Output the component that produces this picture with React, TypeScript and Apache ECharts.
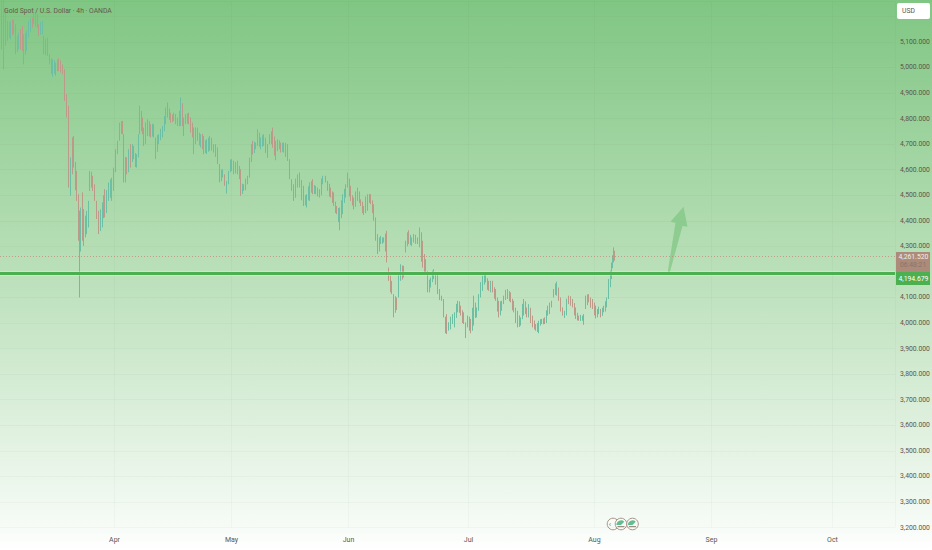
import React, { useEffect, useRef } from "react";
import * as echarts from "echarts";

// Sampled 4h candles: [bar number, open, close, low, high]
const marchBars = [
  [1,5250,5100,5071,5285],[3,5220,5090,4993,5285],[7,5170,5120,5104,5182],[10,5125,5170,5110,5182],[13,5180,5140,5130,5188],
  [15,5160,5070,5052,5169],[18,5080,5125,5071,5136],[22,5150,5080,5065,5162],[23,5030,5120,5012,5130],[26,5080,5130,5065,5143],
  [28,5125,5175,5117,5182],[32,5190,5165,5156,5195],[33,5205,5175,5169,5214],[37,5200,5165,5156,5208],[38,5160,5130,5123,5169],
  [42,5135,5175,5130,5182],[43,5115,5065,5052,5123],[47,5110,5055,5045,5117],[49,5045,5020,5012,5052],[52,4975,5020,4963,5032],
  [55,5010,4980,4967,5019],[58,5030,4995,4986,5036],[62,5005,4980,4973,5012],[64,4985,4880,4869,4993],[66,4885,4815,4804,4895],
  [68,4840,4545,4530,4850],[70,4510,4635,4498,4648],[72,4640,4600,4582,4726],[73,4660,4620,4608,4732],[76,4590,4485,4478,4595],
  [78,4495,4330,4322,4504],[79,4330,4295,4100,4440],[80,4290,4430,4280,4452],[82,4500,4340,4322,4511],[83,4430,4320,4302,4446],[86,4360,4430,4348,4439],
  [88,4380,4470,4374,4478],[89,4520,4590,4517,4595],[92,4570,4525,4517,4576],[94,4535,4490,4478,4543],[96,4470,4415,4407,4478],
  [98,4425,4360,4348,4439],[102,4385,4460,4374,4472],[104,4515,4425,4413,4524],[108,4485,4540,4478,4550],[111,4490,4560,4478,4569],
];
const marchBetween = [
  [5,5190,5110,5085,5230],[9,5130,5165,5115,5178],[12,5175,5135,5125,5186],[17,5075,5110,5060,5125],[20,5130,5085,5070,5150],
  [25,5075,5120,5050,5135],[30,5150,5185,5140,5192],[35,5195,5170,5160,5210],[40,5140,5170,5128,5178],[45,5100,5060,5048,5112],
  [51,5025,4990,4975,5035],[54,4995,5020,4975,5028],[57,5000,5025,4985,5032],[60,5020,4990,4980,5028],[75,4610,4530,4520,4630],
  [85,4340,4400,4335,4420],[91,4560,4585,4530,4592],[100,4370,4430,4360,4445],[103,4440,4490,4410,4500],[106,4440,4500,4430,4520],
  [110,4530,4555,4490,4562],
];
const aprilBars = [
  [113,4525,4600,4517,4608],[117,4665,4705,4661,4713],[119,4720,4775,4713,4784],[122,4785,4745,4739,4791],[123,4730,4560,4550,4739],
  [126,4640,4590,4582,4648],[130,4690,4620,4608,4700],[133,4685,4650,4641,4693],[136,4615,4655,4608,4661],[138,4655,4730,4648,4739],
  [139,4745,4840,4739,4850],[142,4795,4745,4739,4804],[143,4755,4700,4693,4765],[147,4790,4740,4732,4797],[150,4770,4735,4726,4778],
  [153,4770,4735,4726,4778],[155,4650,4715,4641,4726],[158,4705,4735,4700,4739],[162,4730,4765,4726,4771],[165,4785,4835,4778,4843],
  [167,4855,4810,4804,4863],[170,4815,4790,4784,4823],[173,4795,4815,4791,4823],[177,4800,4775,4771,4804],[180,4780,4870,4771,4882],
  [183,4795,4740,4732,4804],[185,4785,4810,4778,4817],[188,4815,4785,4778,4823],[192,4775,4735,4726,4784],[193,4670,4755,4661,4765],
  [197,4755,4720,4713,4765],[200,4695,4730,4687,4739],[203,4725,4670,4661,4732],[206,4670,4710,4661,4719],[209,4680,4725,4674,4732],
  [213,4695,4675,4667,4700],[217,4680,4630,4622,4687],[219,4615,4560,4550,4622],[222,4575,4595,4569,4602],[224,4575,4545,4537,4582],
  [226,4515,4550,4507,4556],[228,4550,4590,4543,4595],
];
const aprilBetween = [
  [115,4600,4670,4590,4680],[121,4750,4780,4740,4790],[125,4560,4625,4550,4650],[128,4600,4660,4590,4680],[132,4650,4680,4630,4700],
  [135,4650,4620,4610,4665],[141,4810,4770,4750,4830],[145,4720,4770,4700,4785],[149,4775,4745,4730,4790],[152,4750,4770,4730,4780],
  [157,4690,4725,4670,4735],[160,4730,4750,4715,4760],[164,4760,4800,4750,4810],[169,4830,4805,4795,4840],[172,4800,4790,4785,4815],
  [175,4810,4785,4778,4818],[179,4780,4820,4770,4830],[182,4830,4790,4770,4860],[187,4810,4790,4780,4820],[190,4790,4760,4745,4805],
  [195,4750,4730,4700,4765],[199,4710,4735,4695,4745],[202,4735,4700,4680,4740],[205,4680,4700,4665,4715],[208,4690,4715,4670,4725],
  [211,4710,4690,4675,4725],[215,4690,4665,4650,4700],[221,4565,4585,4555,4600],[230,4600,4625,4590,4640],
];
const mayBars = [
  [231,4635,4600,4595,4641],[233,4625,4590,4582,4635],[237,4590,4625,4582,4635],[239,4608,4570,4563,4615],[240,4595,4505,4498,4602],
  [243,4522,4538,4517,4543],[247,4548,4570,4543,4576],[249,4575,4640,4569,4647],[252,4705,4670,4660,4713],[255,4700,4685,4680,4706],
  [257,4700,4750,4693,4758],[260,4685,4720,4680,4726],[263,4698,4732,4693,4739],[267,4695,4652,4647,4700],[269,4705,4732,4700,4739],
  [272,4755,4695,4686,4765],[275,4705,4645,4637,4713],[277,4680,4712,4673,4719],[280,4700,4672,4667,4706],[283,4672,4700,4667,4706],
  [287,4692,4642,4634,4700],[289,4635,4570,4563,4641],[291,4557,4522,4517,4563],[293,4535,4485,4478,4543],[297,4536,4576,4530,4582],
  [299,4582,4537,4530,4589],[303,4530,4465,4458,4537],[306,4458,4498,4452,4504],[309,4485,4543,4478,4550],[312,4556,4510,4504,4563],
  [315,4510,4530,4504,4537],[319,4518,4497,4491,4524],[322,4548,4570,4543,4576],[325,4570,4555,4550,4576],[327,4550,4523,4517,4556],
  [330,4524,4497,4491,4530],[333,4505,4464,4458,4511],[336,4452,4431,4426,4458],[339,4375,4445,4363,4452],[342,4432,4498,4426,4504],
  [345,4497,4537,4491,4543],[347,4536,4583,4530,4589],
];
const mayBetween = [
  [235,4600,4615,4585,4630],[242,4515,4530,4505,4545],[245,4530,4555,4520,4565],[251,4640,4690,4630,4700],[254,4675,4695,4665,4710],
  [259,4700,4735,4690,4745],[262,4700,4725,4690,4735],[265,4715,4680,4665,4725],[271,4735,4720,4700,4750],[274,4700,4670,4655,4730],
  [279,4690,4705,4680,4715],[282,4680,4695,4670,4705],[285,4695,4665,4650,4705],[295,4500,4540,4490,4565],[301,4540,4500,4480,4560],
  [305,4470,4485,4460,4500],[308,4495,4530,4480,4535],[311,4525,4540,4510,4555],[314,4515,4525,4505,4540],[317,4525,4505,4495,4530],
  [321,4510,4555,4500,4565],[329,4535,4505,4495,4545],[332,4505,4480,4470,4515],[335,4465,4440,4430,4475],[338,4410,4435,4395,4450],
  [341,4420,4470,4410,4480],[344,4480,4515,4470,4525],
];
const juneBars = [
  [350,4531,4484,4478,4537],[353,4485,4450,4445,4491],[357,4484,4524,4478,4530],[360,4478,4463,4458,4484],[363,4452,4428,4423,4458],
  [367,4445,4498,4439,4504],[370,4498,4471,4465,4504],[373,4459,4406,4400,4465],[375,4407,4328,4322,4413],[377,4342,4276,4270,4348],
  [380,4314,4336,4309,4341],[383,4320,4330,4315,4335],[386,4355,4243,4237,4361],[388,4211,4171,4165,4217],[391,4159,4119,4113,4165],
  [393,4028,4107,4022,4113],[396,4094,4057,4051,4100],[398,4106,4192,4100,4198],[400,4171,4224,4165,4230],[403,4218,4184,4178,4224],
  [405,4282,4316,4276,4322],[408,4357,4315,4309,4363],[411,4308,4329,4302,4335],[413,4321,4342,4315,4348],[417,4329,4315,4309,4335],
  [419,4302,4368,4296,4374],[422,4316,4223,4217,4322],[425,4244,4197,4191,4250],[427,4198,4126,4120,4204],[430,4145,4172,4139,4178],
  [433,4178,4205,4172,4211],[437,4185,4119,4113,4191],[439,4127,4096,4090,4133],[441,4101,4093,4087,4107],[443,4088,4028,4022,4094],
  [446,4029,3963,3957,4035],[448,3976,3997,3970,4003],[452,4002,4029,3996,4035],[454,3989,4036,3983,4042],[457,4048,4081,4042,4087],
  [460,4062,4035,4029,4068],[463,4036,4002,3996,4042],[465,3997,3947,3941,4003],
];
const juneBetween = [
  [349,4550,4510,4495,4565],[352,4490,4470,4460,4500],[355,4465,4505,4455,4515],[359,4505,4480,4470,4515],[362,4465,4440,4430,4475],
  [365,4440,4485,4430,4495],[369,4490,4480,4470,4505],[372,4465,4440,4430,4480],[379,4290,4325,4280,4335],[382,4320,4325,4310,4335],
  [385,4335,4300,4280,4350],[390,4175,4130,4120,4185],[395,4060,4090,4040,4105],[402,4200,4180,4170,4225],[407,4320,4345,4300,4355],
  [410,4315,4325,4305,4345],[415,4330,4320,4310,4345],[421,4345,4260,4240,4355],[424,4260,4215,4200,4270],[429,4130,4160,4120,4170],
  [432,4170,4195,4160,4205],[435,4190,4165,4150,4200],[445,4015,3985,3960,4025],[450,3990,4015,3975,4025],[456,4035,4060,4020,4075],
  [459,4080,4060,4040,4085],[462,4040,4015,4000,4050],
];
const julyBars = [
  [467,3989,4023,3983,4029],[470,4010,3966,3960,4016],[473,3996,4101,3990,4107],[476,4028,4055,4022,4061],[478,4054,4107,4048,4113],
  [482,4132,4179,4126,4185],[485,4192,4165,4159,4198],[488,4159,4132,4126,4165],[492,4159,4126,4120,4165],[495,4127,4093,4087,4133],
  [498,4081,4028,4022,4087],[501,4054,4081,4048,4087],[503,4080,4101,4074,4107],[507,4100,4127,4094,4133],[510,4114,4087,4081,4120],
  [513,4081,4048,4042,4087],[517,4042,3989,3983,4048],[520,3996,4016,3990,4022],[523,4035,4088,4029,4094],[526,4055,4028,4022,4061],
  [528,4028,4068,4022,4074],[532,4023,3989,3983,4029],[535,3990,3976,3970,3996],[538,3966,4003,3960,4009],[541,4000,4012,3996,4016],
  [544,4016,4002,3996,4022],[547,4035,4062,4029,4068],[551,4065,4081,4061,4087],[553,4105,4127,4100,4133],[556,4113,4156,4107,4162],
  [558,4133,4093,4087,4139],[562,4055,4035,4029,4061],[564,4026,4042,4020,4048],[568,4101,4080,4074,4107],[572,4088,4067,4061,4094],
  [575,4055,4022,4016,4061],[578,4023,4015,4009,4029],[582,4015,4023,4009,4029],[583,4029,3999,3993,4035],[585,4061,4101,4055,4107],
  [588,4107,4087,4081,4113],[592,4088,4061,4055,4094],
];
const julyBetween = [
  [469,4020,3985,3970,4025],[472,3990,4050,3970,4060],[475,4060,4040,4020,4080],[480,4120,4150,4100,4160],[484,4160,4185,4150,4195],
  [487,4165,4145,4130,4175],[490,4140,4155,4120,4165],[494,4130,4110,4095,4140],[497,4090,4060,4045,4100],[500,4050,4070,4030,4085],
  [505,4105,4120,4090,4130],[509,4110,4095,4085,4125],[512,4085,4060,4050,4095],[515,4050,4015,4000,4060],[519,3995,4005,3985,4030],
  [522,4025,4065,4015,4075],[525,4075,4055,4035,4085],[530,4050,4015,4000,4060],[534,3995,3985,3975,4010],[537,3980,3990,3965,4000],
  [540,3998,4008,3990,4015],[543,4010,4005,3995,4018],[546,4010,4040,4000,4050],[549,4045,4070,4035,4080],[555,4130,4145,4110,4155],
  [560,4085,4060,4045,4100],[566,4045,4085,4030,4095],[570,4095,4080,4068,4105],[574,4070,4050,4030,4078],[577,4030,4020,4010,4040],
  [580,4015,4025,4008,4032],[587,4090,4105,4070,4112],[590,4090,4075,4060,4100],
];
const augustBars = [
  [595,4062,4024,4018,4068],[598,4040,4058,4035,4064],[600,4049,4028,4022,4055],[603,4047,4062,4042,4068],[606,4067,4094,4061,4100],
  [608,4100,4166,4094,4172],[611,4178,4231,4172,4237],[613,4243,4290,4237,4296],[614,4270,4261.52,4244,4283],
];
const augustBetween = [
  [594,4070,4045,4030,4080],[597,4030,4045,4022,4055],[602,4035,4050,4028,4060],[605,4055,4075,4045,4085],[610,4160,4195,4140,4205],[612,4225,4250,4215,4265],
];

const monthTicks: [number, string][] = [[114,"Apr"],[231,"May"],[348,"Jun"],[468,"Jul"],[594,"Aug"],[711,"Sep"],[832,"Oct"]];
const lastPrice = 4261.52;
const supportLevel = 4194.679;
const countdown = "06:48:21";
const titleText = "Gold Spot / U.S. Dollar · 4h · OANDA";
const currency = "USD";
const arrowOutline = [[667,4194],[675,4392],[670,4396],[683,4455],[687,4377],[682,4380],[669,4194]];
const slotCount = 895;
const priceMin = 3200;
const priceMax = 5260;
const priceStep = 100;

const FONT = "Roboto";
const TEXT = "#5c564d";

const fmt = (v: number) => v.toLocaleString("en-US", { minimumFractionDigits: 3, maximumFractionDigits: 3 });

function earningsIcon(cx: number, cy: number, withArrow: boolean) {
  const children: any[] = [
    { type: "circle", shape: { cx, cy, r: 5.8 }, style: { fill: "#f8fbf6", stroke: "#a9968a", lineWidth: 1 } },
  ];
  if (withArrow) {
    children.push({ type: "text", style: { x: cx - 3, y: cy, text: "‹", fill: "#8a7a70", font: `8px ${FONT}`, textVerticalAlign: "middle", textAlign: "center" } });
  } else {
    children.push({ type: "sector", shape: { cx, cy: cy + 1, r: 4.6, r0: 0, startAngle: Math.PI, endAngle: Math.PI * 1.75 }, style: { fill: "#62bd92" } });
    children.push({ type: "rect", shape: { x: cx - 3.5, y: cy + 2, width: 7, height: 1.2 }, style: { fill: "#9a8e84" } });
  }
  return { type: "group", children };
}

export default function App() {
  const ref = useRef<HTMLDivElement>(null);
  useEffect(() => {
    document.body.style.margin = "0";
    const chart = echarts.init(ref.current!, undefined, { renderer: "svg" });
    const monthMap = new Map(monthTicks);
    const slots = Array.from({ length: slotCount }, (_, i) => String(i));
    const candles = [
      ...marchBars, ...marchBetween, ...aprilBars, ...aprilBetween, ...mayBars, ...mayBetween,
      ...juneBars, ...juneBetween, ...julyBars, ...julyBetween, ...augustBars, ...augustBetween,
    ].sort((a, b) => a[0] - b[0]);
    const isMonth = (i: number) => monthMap.has(i);
    chart.setOption({
      animation: false,
      backgroundColor: new echarts.graphic.LinearGradient(0, 0, 0, 1, [
        { offset: 0, color: "#80c683" },
        { offset: 0.5, color: "#bbe0ba" },
        { offset: 0.955, color: "#f6fbf6" },
        { offset: 1, color: "#ffffff" },
      ]),
      grid: { left: 0, top: 1, width: 895, height: 526.5, outerBoundsMode: "none" },
      xAxis: {
        type: "category",
        data: slots,
        boundaryGap: true,
        axisLine: { show: false },
        axisTick: { show: false, alignWithLabel: true, interval: (i: number) => isMonth(i) },
        splitLine: { show: true, interval: (i: number) => isMonth(i), lineStyle: { color: "rgba(70,110,70,0.04)", width: 1 } },
        axisLabel: {
          interval: (i: number) => isMonth(i),
          formatter: (_: string, i: number) => monthMap.get(i) ?? "",
          margin: 9,
          color: TEXT,
          fontFamily: FONT,
          fontSize: 7,
        },
      },
      yAxis: {
        type: "value",
        position: "right",
        min: priceMin,
        max: priceMax,
        interval: priceStep,
        axisLine: { show: false },
        axisTick: { show: false },
        splitLine: { show: true, lineStyle: { color: "rgba(70,110,70,0.045)", width: 1 } },
        axisLabel: {
          margin: 5,
          color: TEXT,
          fontFamily: FONT,
          fontSize: 6.8,
          showMaxLabel: false,
          formatter: (v: number) => (v > 5150 || v === 4200 ? "" : fmt(v)),
        },
      },
      series: [
        {
          type: "candlestick",
          data: candles,
          encode: { x: 0, y: [1, 2, 3, 4] },
          barWidth: 0.8,
          itemStyle: {
            color: "#6cbfa3",
            color0: "#bc9a8a",
            borderColor: "#6cbfa3",
            borderColor0: "#bc9a8a",
            borderColorDoji: "#bc9a8a",
            borderWidth: 1,
          },
          markLine: {
            silent: true,
            symbol: "none",
            label: { show: false },
            data: [
              { yAxis: lastPrice, lineStyle: { color: "#c4826e", type: [1, 2], width: 1, opacity: 0.7 } },
              { yAxis: supportLevel, lineStyle: { color: "rgba(255,255,255,0.25)", type: "solid", width: 5, opacity: 1 } },
              { yAxis: supportLevel, lineStyle: { color: "#4caf50", type: "solid", width: 3, opacity: 1 } },
            ],
          },
        },
        {
          type: "custom",
          data: [arrowOutline[0]],
          encode: { x: 0, y: 1 },
          z: 3,
          renderItem: (_: any, api: any) => ({
            type: "polygon",
            shape: { points: arrowOutline.map((p) => api.coord(p)) },
            style: { fill: "rgba(129,199,132,0.75)" },
          }),
        },
      ],
      graphic: [
        { type: "text", z: 20, style: { x: 4, y: 11, text: titleText, fill: "#65584c", font: `6.8px ${FONT}`, textVerticalAlign: "middle" } },
        { type: "rect", z: 20, shape: { x: 897, y: 3, width: 33, height: 16, r: 2 }, style: { fill: "#ffffff" } },
        { type: "text", z: 21, style: { x: 902, y: 11, text: currency, fill: "#5d5450", font: `6.8px ${FONT}`, textVerticalAlign: "middle" } },
        { type: "rect", z: 20, shape: { x: 896, y: 252, width: 34, height: 20 }, style: { fill: "#ad8b7a" } },
        { type: "text", z: 21, style: { x: 898.5, y: 256.5, text: fmt(lastPrice), fill: "#f2efe9", font: `6.8px ${FONT}`, textVerticalAlign: "middle" } },
        { type: "text", z: 21, style: { x: 900, y: 265, text: countdown, fill: "#8b7468", font: `6.8px ${FONT}`, textVerticalAlign: "middle" } },
        { type: "rect", z: 20, shape: { x: 896, y: 272, width: 34, height: 13 }, style: { fill: "#4caf50" } },
        { type: "text", z: 21, style: { x: 898.5, y: 278.5, text: fmt(supportLevel), fill: "#ffffff", font: `6.8px ${FONT}`, textVerticalAlign: "middle" } },
        { ...earningsIcon(613, 524, true), z: 20 },
        { ...earningsIcon(621, 524, false), z: 21 },
        { ...earningsIcon(632.5, 524, false), z: 21 },
      ],
    });
    return () => chart.dispose();
  }, []);
  return <div ref={ref} style={{ width: 932, height: 550 }} />;
}
